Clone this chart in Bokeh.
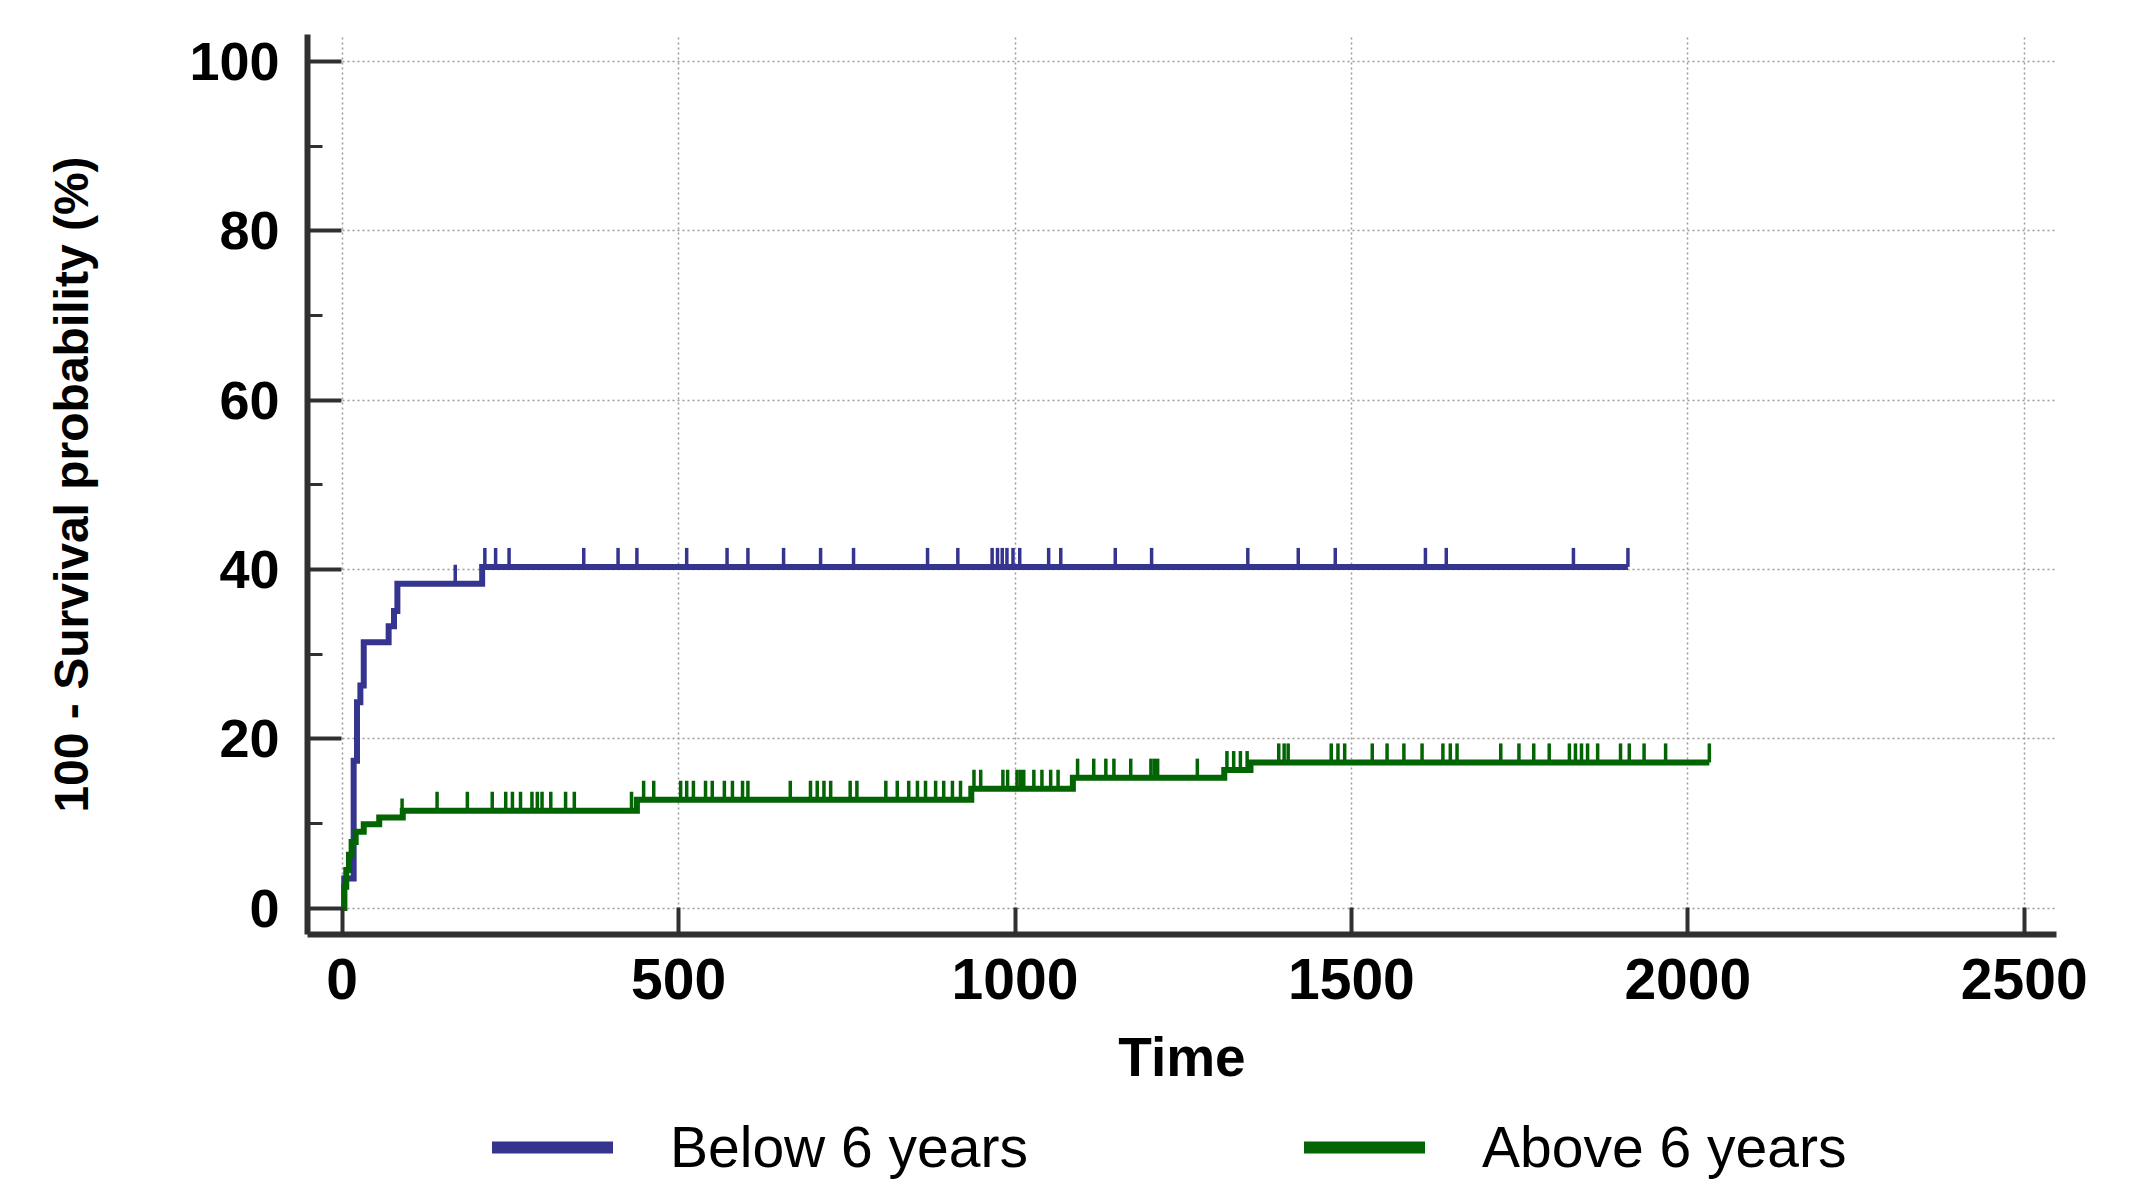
import numpy as np
from bokeh.plotting import figure
from bokeh.layouts import column
from bokeh.models import (ColumnDataSource, FixedTicker, Legend, LegendItem, Range1d)
from bokeh.embed import file_html
from bokeh.resources import INLINE

# ---------------- data ----------------
series_names = ["Below 6 years", "Above 6 years"]

# Below 6 years: event times and cumulative level (100 - survival %)
below_times = [0, 3, 17, 22, 27, 32, 69, 77, 82, 208]
below_levels = [0, 3.5, 17.4, 24.3, 26.3, 31.4, 33.3, 35.1, 38.3, 40.3]
below_end = 1911
below_censored = [168, 212, 228, 248, 359, 410, 438, 512, 572, 603, 656, 711, 760,
                  870, 915, 966, 974, 981, 988, 997, 1007, 1050, 1068, 1149, 1203,
                  1346, 1421, 1476, 1610, 1641, 1830, 1911]

# Above 6 years
above_times = [0, 3, 6, 10, 14, 20, 32, 55, 90, 438, 935, 1086, 1311, 1350]
above_levels = [0, 2.5, 4.5, 6.3, 7.8, 9.0, 9.9, 10.7, 11.5, 12.8, 14.1, 15.4, 16.3, 17.2]
above_end = 2032
above_censored = [89, 141, 186, 223, 243, 253, 265, 282, 290, 297, 310, 332, 345, 430,
                  448, 463, 503, 512, 522, 540, 550, 568, 580, 595, 603, 666, 696, 706,
                  716, 726, 755, 765, 808, 825, 842, 855, 867, 882, 894, 907, 919, 939,
                  949, 982, 989, 1003, 1008, 1013, 1028, 1040, 1053, 1064, 1093, 1117,
                  1135, 1147, 1172, 1202, 1207, 1212, 1271, 1315, 1325, 1335, 1345, 1392,
                  1400, 1406, 1470, 1480, 1490, 1531, 1553, 1578, 1605, 1636, 1647, 1657,
                  1722, 1749, 1771, 1794, 1824, 1833, 1842, 1851, 1866, 1900, 1913, 1935,
                  1967, 2032]

x_ticks = [0, 500, 1000, 1500, 2000, 2500]
y_ticks = [0, 20, 40, 60, 80, 100]
y_minor_ticks = [10, 30, 50, 70, 90]

BLUE = "#35358f"
GREEN = "#026402"
AXIS = "#303030"
FONT = "Liberation Sans"

# ---------------- main figure ----------------
W, H = 2130, 1114
p = figure(width=W, height=H, output_backend="svg", toolbar_location=None,
           x_range=Range1d(-51.6, 2548), y_range=Range1d(-3.13, 103.2),
           min_border_left=307, min_border_right=W - 2056, min_border_top=34,
           min_border_bottom=H - 934)
p.outline_line_color = None
p.background_fill_color = "white"
p.border_fill_color = "white"

# ---------------- legend strip ----------------
pl = figure(width=W, height=66, output_backend="svg", toolbar_location=None,
            x_range=Range1d(0, 1), y_range=Range1d(0, 1),
            x_axis_type=None, y_axis_type=None, min_border=0)
pl.outline_line_color = None
pl.xgrid.visible = False
pl.ygrid.visible = False


def step_xy(times, levels, end):
    return list(times) + [end], list(levels) + [levels[-1]]


def level_at(times, levels, ts):
    idx = np.searchsorted(np.array(times), np.array(ts), side="right") - 1
    return [levels[i] for i in idx]


swatches = []
for times, levels, end, cens, col in [
    (below_times, below_levels, below_end, below_censored, BLUE),
    (above_times, above_levels, above_end, above_censored, GREEN),
]:
    xs, ys = step_xy(times, levels, end)
    p.step(x=xs, y=ys, mode="after", line_color=col, line_width=6,
           line_join="miter")
    src = ColumnDataSource(dict(x=cens, y=level_at(times, levels, cens)))
    p.ray(x="x", y="y", source=src, length=19, length_units="screen",
          angle=90, angle_units="deg", line_color=col, line_width=3.5)
    # hidden renderer in the legend strip, used only for the legend swatch
    sw = pl.line(x=xs, y=ys, line_color=col, line_width=12, line_cap="round",
                 visible=False)
    swatches.append(sw)

legend = Legend(items=[LegendItem(label=series_names[0], renderers=[swatches[0]]),
                       LegendItem(label=series_names[1], renderers=[swatches[1]])],
                orientation="horizontal", location=(185, 0),
                label_text_font=FONT, label_text_font_size="57px",
                label_text_color="black", glyph_width=121, glyph_height=14,
                label_standoff=57, spacing=276,
                padding=0, margin=0, border_line_color=None,
                background_fill_alpha=0)
pl.add_layout(legend, "center")

# ---------------- axes ----------------
p.xaxis.ticker = FixedTicker(ticks=x_ticks)
p.yaxis.ticker = FixedTicker(ticks=y_ticks, minor_ticks=y_minor_ticks)

for ax in (p.xaxis[0], p.yaxis[0]):
    ax.axis_line_color = AXIS
    ax.axis_line_width = 6
    ax.major_tick_line_color = AXIS
    ax.major_tick_line_width = 4
    ax.major_tick_out = 0
    ax.minor_tick_out = 0
    ax.major_label_text_font = FONT
    ax.major_label_text_font_style = "bold"
    ax.major_label_text_color = "black"
    ax.axis_label_text_font = FONT
    ax.axis_label_text_font_style = "bold"
    ax.axis_label_text_color = "black"

p.xaxis.major_tick_in = 27
p.xaxis.minor_tick_line_color = None
p.xaxis.major_label_text_font_size = "57px"
p.xaxis.major_label_standoff = 24
p.xaxis.axis_label = "Time"
p.xaxis.axis_label_text_font_size = "55px"
p.xaxis.axis_label_standoff = 24

p.yaxis.major_tick_in = 34
p.yaxis.minor_tick_in = 15
p.yaxis.minor_tick_line_color = AXIS
p.yaxis.minor_tick_line_width = 3
p.yaxis.major_label_text_font_size = "54px"
p.yaxis.major_label_standoff = 28
p.yaxis.axis_label = "100 - Survival probability (%)"
p.yaxis.axis_label_text_font_size = "48px"
p.yaxis.axis_label_standoff = 88

for g in (p.xgrid[0], p.ygrid[0]):
    g.grid_line_color = "#9a9a9a"
    g.grid_line_dash = "2 3"
    g.grid_line_width = 1.5

layout = column(p, pl, spacing=0)
open("out.html", "w").write(file_html(layout, INLINE))
